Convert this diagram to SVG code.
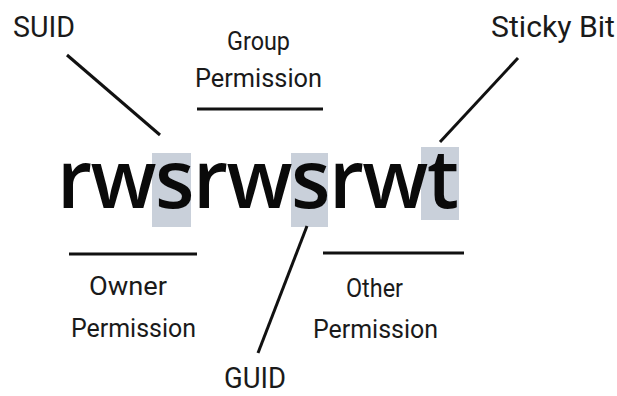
<svg xmlns="http://www.w3.org/2000/svg" width="617" height="396" viewBox="0 0 617 396">
<style>
.lbl{font-family:Roboto,"Liberation Sans",sans-serif;font-size:30px;fill:#1a1a1a;}
.sm{font-size:25px;}
.big{font-family:"Open Sans","Liberation Sans",sans-serif;font-weight:600;font-size:81px;letter-spacing:-1.5px;fill:#0a0a0a;}
.hl{fill:#c9d0da;}
.ln{stroke:#111;stroke-width:3;stroke-linecap:butt;fill:none;}
</style>
<rect width="617" height="396" fill="#fff"/>
<g id="highlights">
<rect class="hl" x="152" y="153" width="39" height="74"/>
<rect class="hl" x="291" y="153" width="37" height="74"/>
<rect class="hl" x="421" y="147" width="38" height="73"/>
</g>
<g id="permissions">
<text class="big" x="57" y="208">rwsrwsrwt</text>
</g>
<g id="connectors">
<line class="ln" x1="67" y1="55" x2="160" y2="135"/>
<line class="ln" x1="518" y1="58" x2="440" y2="142"/>
<line class="ln" x1="307" y1="226" x2="258" y2="353"/>
<line class="ln" x1="197" y1="109" x2="323" y2="109"/>
<line class="ln" x1="69" y1="254" x2="197" y2="254"/>
<line class="ln" x1="323" y1="253" x2="464" y2="253"/>
</g>
<g id="suid"><text class="lbl" x="13" y="37" textLength="62" lengthAdjust="spacingAndGlyphs">SUID</text></g>
<g id="sticky"><text class="lbl" x="491" y="37" textLength="124" lengthAdjust="spacingAndGlyphs">Sticky Bit</text></g>
<g id="guid"><text class="lbl" x="224" y="388" textLength="62" lengthAdjust="spacingAndGlyphs">GUID</text></g>
<g id="group">
<text class="lbl sm" x="227" y="50" textLength="63" lengthAdjust="spacingAndGlyphs">Group</text>
<text class="lbl sm" x="195" y="87" textLength="127" lengthAdjust="spacingAndGlyphs">Permission</text>
</g>
<g id="owner">
<text class="lbl sm" x="89" y="295" textLength="78" lengthAdjust="spacingAndGlyphs">Owner</text>
<text class="lbl sm" x="71" y="337" textLength="125" lengthAdjust="spacingAndGlyphs">Permission</text>
</g>
<g id="other">
<text class="lbl sm" x="346" y="297" textLength="57" lengthAdjust="spacingAndGlyphs">Other</text>
<text class="lbl sm" x="313" y="338" textLength="125" lengthAdjust="spacingAndGlyphs">Permission</text>
</g>
</svg>
